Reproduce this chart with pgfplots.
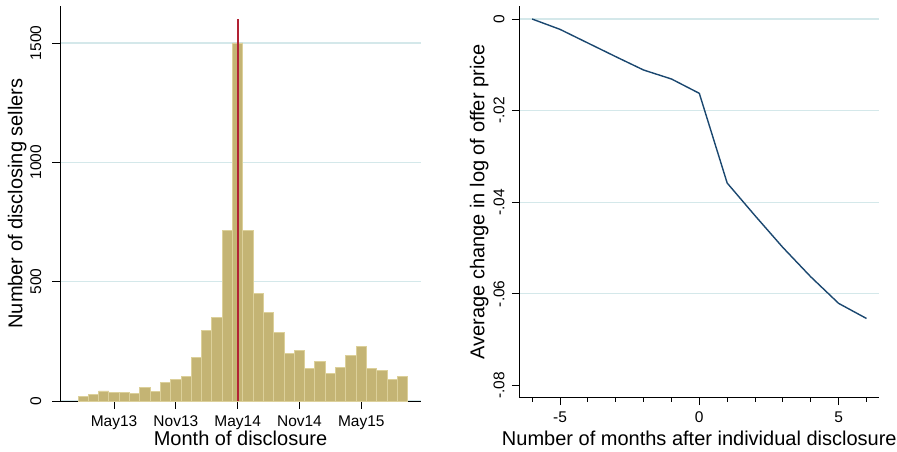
\documentclass[border=0pt]{standalone}
\usepackage{fontspec}
\setmainfont{Liberation Sans}
\usepackage{pgfplots}
\pgfplotsset{compat=1.18}
\definecolor{barfill}{RGB}{196,180,116}
\definecolor{barline}{RGB}{220,208,154}
\definecolor{gridc}{RGB}{212,232,234}
\definecolor{statared}{RGB}{178,34,52}
\definecolor{statanavy}{RGB}{26,71,111}

\pgfplotstableread{
m n
-15 18
-14 27
-13 42
-12 35
-11 36
-10 31
-9 56
-8 40
-7 78
-6 89
-5 103
-4 183
-3 296
-2 349
-1 715
0 1500
1 715
2 451
3 369
4 288
5 200
6 212
7 138
8 166
9 116
10 141
11 191
12 228
13 137
14 128
15 89
16 103
}\histdata

\pgfplotstableread{
t d
-6 0
-5 -0.00226
-4 -0.00524
-3 -0.00822
-2 -0.01114
-1 -0.0131
0 -0.01623
1 -0.03582
2 -0.04295
3 -0.0499
4 -0.0563
5 -0.0621
6 -0.0654
}\linedata

\begin{document}
\begin{tikzpicture}[x=1pt,y=1pt]
\useasboundingbox (0,0) rectangle (897,451);
\pgfplotsset{
  statastyle/.style={
    scale only axis,
    anchor=south west,
    axis x line*=bottom, axis y line*=left,
    axis line style={black, line width=0.9pt, -},
    tick align=outside,
    major tick length=7.5pt,
    minor tick length=4pt,
    every tick/.style={black, line width=0.9pt},
    ymajorgrids,
    grid style={gridc, line width=1.3pt},
    tick label style={font=\fontsize{15.5}{18}\selectfont},
    label style={font=\fontsize{20}{24}\selectfont},
    xticklabel style={anchor=base},
    yticklabel style={rotate=90, anchor=south, inner sep=0pt},
    scaled y ticks=false,
    scaled x ticks=false,
  }
}
\begin{axis}[statastyle,
  at={(60pt,50pt)}, width=361pt, height=395pt,
  xmin=-17.25, xmax=17.8, ymin=0, ymax=1655,
  xtick={-12,-6,0,6,12},
  xticklabels={\mbox{May13},\mbox{Nov13},\mbox{May14},\mbox{Nov14},\mbox{May15}},
  ytick={0,500,1000,1500},
  yticklabels={\mbox{0},\mbox{500},\mbox{1000},\mbox{1500}},
  xticklabel shift=17.5pt,
  yticklabel shift=11pt,
  xlabel={Month of disclosure},
  ylabel={Number of disclosing sellers},
  xlabel style={at={(axis description cs:0.5,-0.1132)}, anchor=base},
  ylabel style={at={(axis description cs:-0.1044,0.5)}, anchor=base},
]
\addplot[ybar, bar width=1, bar shift=0pt, fill=barfill, draw=barline, line width=0.9pt] table[x=m, y=n] {\histdata};
\addplot[statared, line width=1.7pt, no marks] coordinates {(0,0) (0,1600)};
\end{axis}

\begin{axis}[statastyle,
  at={(519.3pt,53.3pt)}, width=360pt, height=391.7pt,
  xmin=-6.46, xmax=6.46, ymin=-0.0827, ymax=0.00284,
  xtick={-5,0,5}, xticklabels={\mbox{-5},\mbox{0},\mbox{5}},
  minor xtick={-6,-4,-3,-2,-1,1,2,3,4,6},
  ytick={-0.06,-0.04,-0.02,0},
  yticklabels={\mbox{-.06},\mbox{-.04},\mbox{-.02},\mbox{0}},
  extra y ticks={-0.08}, extra y tick labels={\mbox{-.08}},
  extra y tick style={grid=none},
  xticklabel shift=17.5pt,
  yticklabel shift=7pt,
  xlabel={Number of months after individual disclosure},
  ylabel={Average change in log of offer price},
  xlabel style={at={(axis description cs:0.5,-0.1208)}, anchor=base},
  ylabel style={at={(axis description cs:-0.0972,0.5)}, anchor=base},
]
\addplot[statanavy, line width=1.4pt, no marks] table[x=t, y=d] {\linedata};
\end{axis}
\end{tikzpicture}
\end{document}
